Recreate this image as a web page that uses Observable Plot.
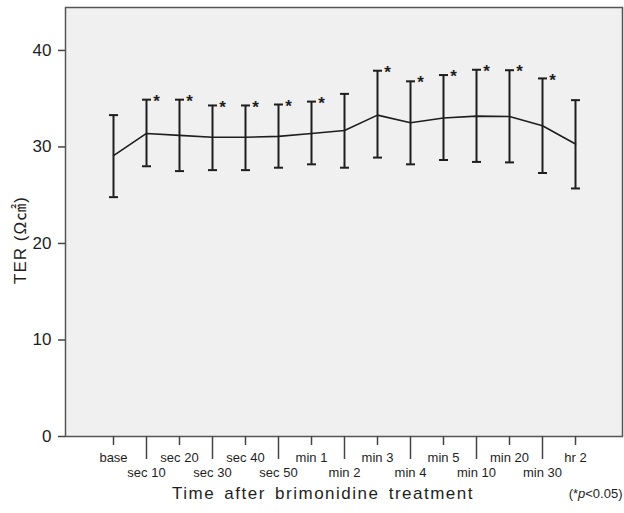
<!DOCTYPE html>
<html>
<head>
<meta charset="utf-8">
<script src="https://cdn.jsdelivr.net/npm/d3@7"></script>
<script src="https://cdn.jsdelivr.net/npm/@observablehq/plot@0.6"></script>
<style>
  html, body { margin: 0; padding: 0; background: #fff; }
  #chart svg { display: block; }
</style>
</head>
<body>
<div id="chart"></div>
<script>
const categories = ["base","sec 10","sec 20","sec 30","sec 40","sec 50","min 1","min 2","min 3","min 4","min 5","min 10","min 20","min 30","hr 2"];
const means = [29.1,31.4,31.2,31.0,31.0,31.1,31.4,31.7,33.3,32.5,33.0,33.2,33.15,32.2,30.3];
const upper = [33.3,34.9,34.9,34.3,34.3,34.4,34.7,35.5,37.9,36.8,37.45,38.0,37.95,37.1,34.85];
const lower = [24.8,28.0,27.5,27.6,27.6,27.85,28.2,27.85,28.9,28.2,28.65,28.45,28.4,27.3,25.7];
const significant = [false,true,true,true,true,true,true,false,true,true,true,true,true,true,false];
const yTicks = [0,10,20,30,40];
const xTitle = "Time after brimonidine treatment";
const yTitle = "TER (Ω㎠)";
const note = "(*p<0.05)";

const data = categories.map((c, i) => ({cat: c, mean: means[i], hi: upper[i], lo: lower[i], sig: significant[i]}));
const evenCats = categories.filter((c, i) => i % 2 === 0);
const oddCats = categories.filter((c, i) => i % 2 === 1);

const capSymbol = {draw(ctx) { ctx.moveTo(-4.5, 0); ctx.lineTo(4.5, 0); }};
const ink = "#1e1e1e";
const font = "'Liberation Sans', Arial, 'Noto Sans CJK KR', sans-serif";

const chart = Plot.plot({
  width: 624,
  height: 513,
  marginLeft: 65,
  marginRight: 2,
  marginTop: 7,
  marginBottom: 77,
  style: {fontFamily: font, background: "#fff", color: ink},
  x: {type: "point", domain: categories, padding: 1.35},
  y: {domain: [0, 44.45]},
  marks: [
    Plot.frame({fill: "#f0f0f0", stroke: "#555", strokeWidth: 1.5}),
    Plot.axisY({ticks: yTicks, tickSize: 7, tickPadding: 7, fontSize: 17, label: null, stroke: "#444", strokeWidth: 1.5}),
    Plot.axisX({ticks: evenCats, tickSize: 9, tickPadding: 7, fontSize: 13, label: null, stroke: "#444", strokeWidth: 1.5}),
    Plot.axisX({ticks: oddCats, tickSize: 23, tickPadding: 8, fontSize: 13, label: null, stroke: "#444", strokeWidth: 1.5}),
    Plot.ruleX(data, {x: "cat", y1: "lo", y2: "hi", stroke: ink, strokeWidth: 2}),
    Plot.dot(data, {x: "cat", y: "hi", symbol: capSymbol, stroke: ink, strokeWidth: 2, r: 4}),
    Plot.dot(data, {x: "cat", y: "lo", symbol: capSymbol, stroke: ink, strokeWidth: 2, r: 4}),
    Plot.line(data, {x: "cat", y: "mean", stroke: ink, strokeWidth: 1.6}),
    Plot.text(data.filter(d => d.sig), {x: "cat", y: "hi", text: () => "*", dx: 10, dy: -5, lineAnchor: "top", fontSize: 17, fontWeight: "bold", fill: ink}),
    Plot.text([yTitle], {frameAnchor: "left", textAnchor: "middle", dx: -45, dy: 18, rotate: -90, fontSize: 17, fill: ink, className: "ytitle"}),
    Plot.text([xTitle], {frameAnchor: "bottom", dx: -21, dy: 62, fontSize: 17, fill: ink, className: "xtitle"}),
    Plot.text([note], {frameAnchor: "bottom-right", textAnchor: "end", dy: 61, fontSize: 13, fill: ink, className: "pnote"})
  ]
});
document.getElementById("chart").appendChild(chart);

chart.querySelectorAll(".xtitle text").forEach(t => { t.style.letterSpacing = "1.5px"; t.style.wordSpacing = "3px"; });
chart.querySelectorAll(".ytitle text").forEach(t => { t.style.letterSpacing = "1px"; });
chart.querySelectorAll(".pnote text").forEach(t => {
  t.textContent = "";
  const parts = [["(*", null], ["p", "italic"], ["<0.05)", null]];
  for (const [s, st] of parts) {
    const ts = document.createElementNS("http://www.w3.org/2000/svg", "tspan");
    ts.textContent = s;
    if (st) ts.setAttribute("font-style", st);
    t.appendChild(ts);
  }
});
</script>
</body>
</html>
